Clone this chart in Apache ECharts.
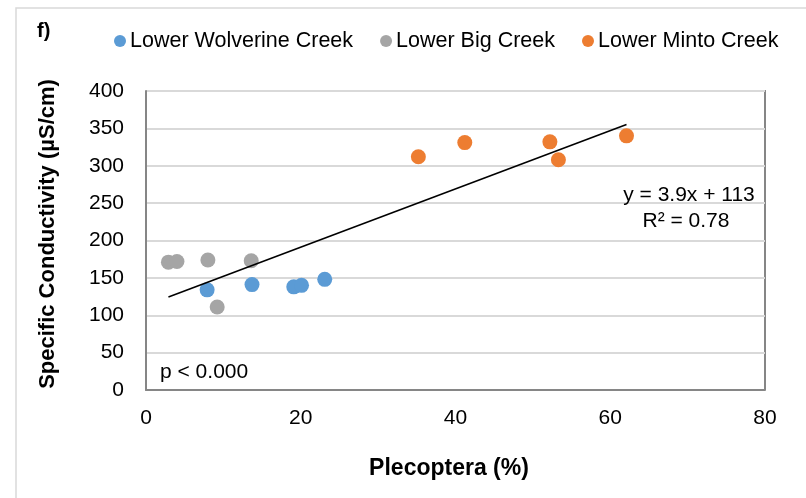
<!DOCTYPE html>
<html>
<head>
<meta charset="utf-8">
<script src="https://cdn.jsdelivr.net/npm/echarts@6/dist/echarts.min.js"></script>
<style>
  html, body { margin: 0; padding: 0; background: #fff; }
  #chart { width: 806px; height: 498px; }
</style>
</head>
<body>
<div id="chart"></div>
<script>
// Plecoptera share (%) vs. specific conductivity (µS/cm) per site
const wolverineX = [7.9, 13.7, 19.1, 20.1, 23.1];
const wolverineY = [134, 141, 138, 140, 148];
const bigX = [2.9, 4.0, 8.0, 9.2, 13.6];
const bigY = [171, 172, 174, 111, 173];
const mintoX = [35.2, 41.2, 52.2, 53.3, 62.1];
const mintoY = [312, 331, 332, 308, 340];

// Fitted linear trend, as printed on the chart
const slope = 3.9;
const intercept = 113;
const rSquared = 0.78;
const pText = 'p < 0.000';

const xTicks = [0, 20, 40, 60, 80];
const yTicks = [0, 50, 100, 150, 200, 250, 300, 350, 400];

const seriesNames = ['Lower Wolverine Creek', 'Lower Big Creek', 'Lower Minto Creek'];
const seriesColors = ['#5b9bd5', '#a5a5a5', '#ed7d31'];

const FONT = '"Liberation Sans", Arial, sans-serif';

function pairs(xs, ys) { return xs.map((x, i) => [x, ys[i]]); }

const allX = wolverineX.concat(bigX, mintoX);
const xLo = Math.min(...allX);
const xHi = Math.max(...allX);
const trend = [[xLo, slope * xLo + intercept], [xHi, slope * xHi + intercept]];

const chart = echarts.init(document.getElementById('chart'), null, { renderer: 'canvas' });

const scatter = (name, data, color) => ({
  name: name,
  type: 'scatter',
  data: data,
  symbol: 'circle',
  symbolSize: 15,
  itemStyle: { color: color, opacity: 1 },
  z: 3
});

chart.setOption({
  animation: false,
  backgroundColor: '#ffffff',
  textStyle: { fontFamily: FONT },
  legend: {
    data: seriesNames,
    left: 109,
    top: 25,
    icon: 'circle',
    itemWidth: 12,
    itemHeight: 12,
    itemGap: 27,
    textStyle: { fontFamily: FONT, fontSize: 21.5, color: '#000', padding: [0, 0, 0, -1] }
  },
  grid: { left: 146, top: 91, right: 41, bottom: 108, containLabel: false },
  xAxis: {
    type: 'value',
    min: xTicks[0],
    max: xTicks[xTicks.length - 1],
    interval: xTicks[1] - xTicks[0],
    axisLine: { show: true, lineStyle: { color: '#868686', width: 2 } },
    axisTick: { show: false },
    splitLine: { show: false },
    axisLabel: { margin: 18, fontSize: 21, color: '#000', fontFamily: FONT }
  },
  yAxis: {
    type: 'value',
    min: yTicks[0],
    max: yTicks[yTicks.length - 1],
    interval: yTicks[1] - yTicks[0],
    axisLine: { show: true, lineStyle: { color: '#868686', width: 2 } },
    axisTick: { show: false },
    splitLine: { show: true, lineStyle: { color: '#d9d9d9', width: 2 } },
    axisLabel: { margin: 22, fontSize: 21, color: '#000', fontFamily: FONT }
  },
  series: [
    scatter(seriesNames[0], pairs(wolverineX, wolverineY), seriesColors[0]),
    scatter(seriesNames[1], pairs(bigX, bigY), seriesColors[1]),
    scatter(seriesNames[2], pairs(mintoX, mintoY), seriesColors[2]),
    {
      name: 'trend',
      type: 'line',
      data: trend,
      symbol: 'none',
      lineStyle: { color: '#000', width: 1.6 },
      z: 4,
      silent: true
    }
  ],
  graphic: [
    // outer frame of the chart area
    { type: 'rect', shape: { x: 16, y: 8, width: 820, height: 520 },
      style: { fill: null, stroke: '#d9d9d9', lineWidth: 1.5 }, silent: true },
    // top and right edges of the plot box
    { type: 'polyline', shape: { points: [[146, 91], [765, 91], [765, 390]] },
      style: { stroke: '#868686', lineWidth: 2, fill: null }, silent: true },
    { type: 'text', left: 37, top: 21,
      style: { text: 'f)', font: 'bold 20px ' + FONT, fill: '#000' } },
    { type: 'text', x: 48, y: 234, rotation: Math.PI / 2,
      style: { text: 'Specific Conductivity (µS/cm)', font: 'bold 22px ' + FONT, fill: '#000',
        textAlign: 'center', textVerticalAlign: 'middle' } },
    { type: 'text', x: 449, y: 469,
      style: { text: 'Plecoptera (%)', font: 'bold 23px ' + FONT, fill: '#000',
        textAlign: 'center', textVerticalAlign: 'middle' } },
    { type: 'text', x: 689, y: 195, z: 10,
      style: { text: 'y = ' + slope + 'x + ' + intercept, font: '21px ' + FONT, fill: '#000',
        textAlign: 'center', textVerticalAlign: 'middle' } },
    { type: 'text', x: 686, y: 221, z: 10,
      style: { text: 'R² = ' + rSquared, font: '21px ' + FONT, fill: '#000',
        textAlign: 'center', textVerticalAlign: 'middle' } },
    { type: 'text', x: 160, y: 372, z: 10,
      style: { text: pText, font: '21px ' + FONT, fill: '#000',
        textAlign: 'left', textVerticalAlign: 'middle' } }
  ]
});
</script>
</body>
</html>
